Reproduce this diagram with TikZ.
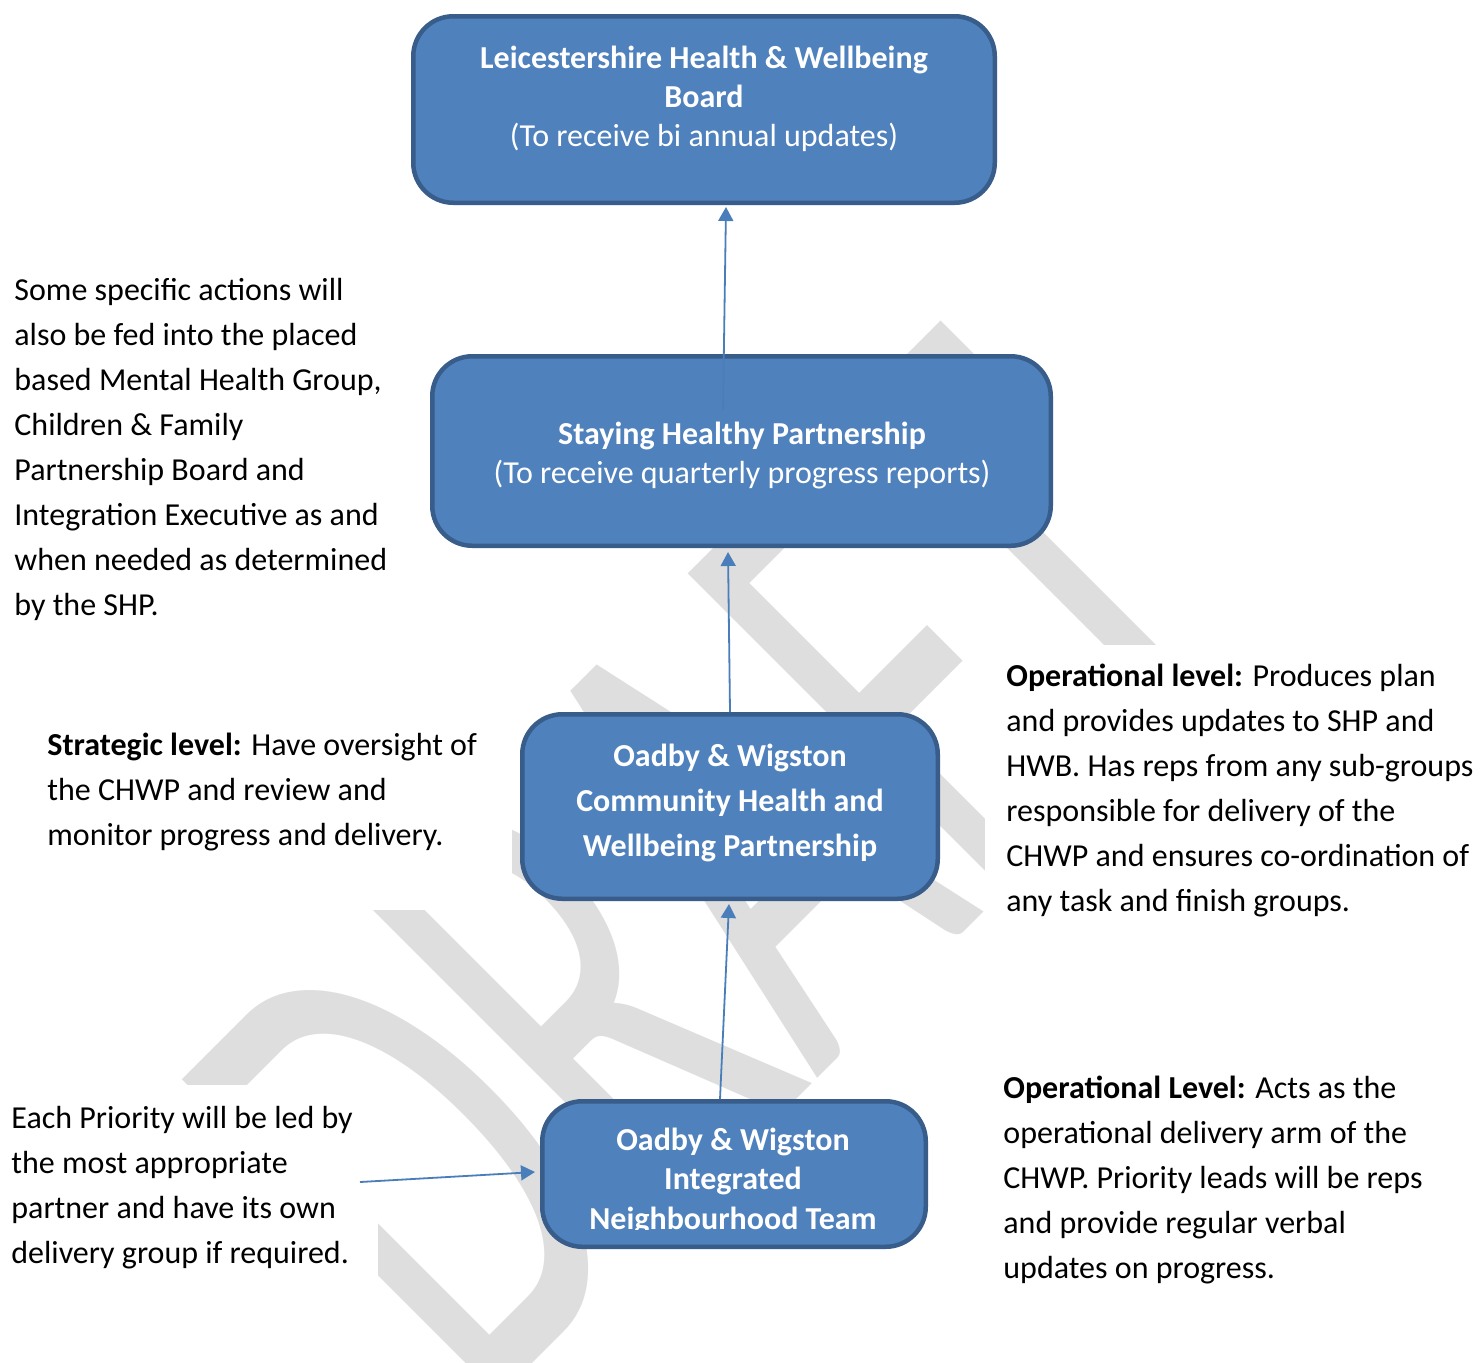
\documentclass[tikz,border=0pt]{standalone}
\usepackage{fontspec}
\setmainfont{Carlito}
\usetikzlibrary{arrows.meta,calc}
\definecolor{boxfill}{HTML}{4F81BD}
\definecolor{boxline}{HTML}{385D8A}
\definecolor{arrowcol}{HTML}{4A7EBB}
\definecolor{wmgray}{HTML}{DEDEDE}
\begin{document}
\begin{tikzpicture}[x=0.5pt,y=-0.5pt,
  box/.style={draw=boxline, fill=boxfill, line width=2.25pt, rounded corners=20pt, inner sep=0pt},
  boxtext/.style={text=white, align=center, inner sep=0pt, anchor=base, font=\fontsize{16}{19.5}\selectfont},
  body/.style={align=left, inner sep=0pt, anchor=base west, font=\fontsize{16}{22.5}\selectfont},
  arr/.style={draw=arrowcol, line width=0.9pt, -{Triangle[length=7pt,width=7.5pt]}}
]
\useasboundingbox (0,0) rectangle (1481,1362);
\fill[white] (0,0) rectangle (1481,1362);

% watermark
\begin{scope}[shift={(479,1417)}, rotate=45, yscale=1.696]
\node[transform shape, anchor=base west, inner sep=0pt, text=wmgray, font=\fontsize{206}{206}\selectfont] (wm) at (0,0) {DRAFT};
\end{scope}

% text box backgrounds
\fill[white] (0,260) rectangle (395,630);
\fill[white] (30,700) rectangle (512,910);
\fill[white] (985,645) rectangle (1481,930);
\fill[white] (0,1085) rectangle (378,1300);
\fill[white] (985,1060) rectangle (1481,1300);

% boxes
\node[box, minimum width=290.75pt, minimum height=93.25pt] (hwb) at (704,109.5) {};
\node[box, minimum width=309.25pt, minimum height=94.75pt] (shp) at (741.5,451) {};
\node[box, minimum width=207.75pt, minimum height=92.25pt] (chwp) at (730,806.5) {};
\node[box, minimum width=191.75pt, minimum height=72.75pt] (int) at (734,1174) {};

% box texts (anchor = baseline of last line)
\node[boxtext] (hwbt) at (704,146) {\textbf{Leicestershire Health \& Wellbeing}\\\textbf{Board}\\(To receive bi annual updates)};
\node[boxtext] (shpt) at (742,483) {\textbf{Staying Healthy Partnership}\\(To receive quarterly progress reports)};
\node[boxtext, font=\fontsize{16}{22.5}\selectfont\bfseries] (chwpt) at (730,856) {Oadby \& Wigston\\Community Health and\\Wellbeing Partnership};
\begin{scope}
\clip (545,1104) rectangle (923,1229);
\node[boxtext, font=\fontsize{16}{19.75}\selectfont\bfseries] (intt) at (733,1229) {Oadby \& Wigston\\Integrated\\Neighbourhood Team};
\end{scope}

% arrows
\draw[arr] ([xshift=-9.25pt,yshift=-28pt]shp.north) -- ([xshift=11pt,yshift=-1pt]hwb.south);
\draw[arr] (chwp.north) -- ([xshift=-6.75pt,yshift=-2pt]shp.south);
\draw[arr] ([xshift=-7pt]int.north) -- ([xshift=-0.5pt,yshift=-1.5pt]chwp.south);
\coordinate (a4s) at (360,1182);
\draw[arr] (a4s) -- ([xshift=-2.5pt,yshift=1pt]int.west);

% side texts (anchor = baseline of last line)
\node[body] (tl) at (14,615) {Some specific actions will\\also be fed into the placed\\based Mental Health Group,\\Children \& Family\\Partnership Board and\\Integration Executive as and\\when needed as determined\\by the SHP.};
\node[body] (strat) at (47,845) {\textbf{Strategic level:} Have oversight of\\the CHWP and review and\\monitor progress and delivery.};
\node[body] (op1) at (1006,911) {\textbf{Operational level:} Produces plan\\and provides updates to SHP and\\HWB. Has reps from any sub-groups\\responsible for delivery of the\\CHWP and ensures co-ordination of\\any task and finish groups.};
\node[body] (op2) at (1003,1278) {\textbf{Operational Level:} Acts as the\\operational delivery arm of the\\CHWP. Priority leads will be reps\\and provide regular verbal\\updates on progress.};
\node[body] (each) at (11,1263) {Each Priority will be led by\\the most appropriate\\partner and have its own\\delivery group if required.};
\end{tikzpicture}
\end{document}
